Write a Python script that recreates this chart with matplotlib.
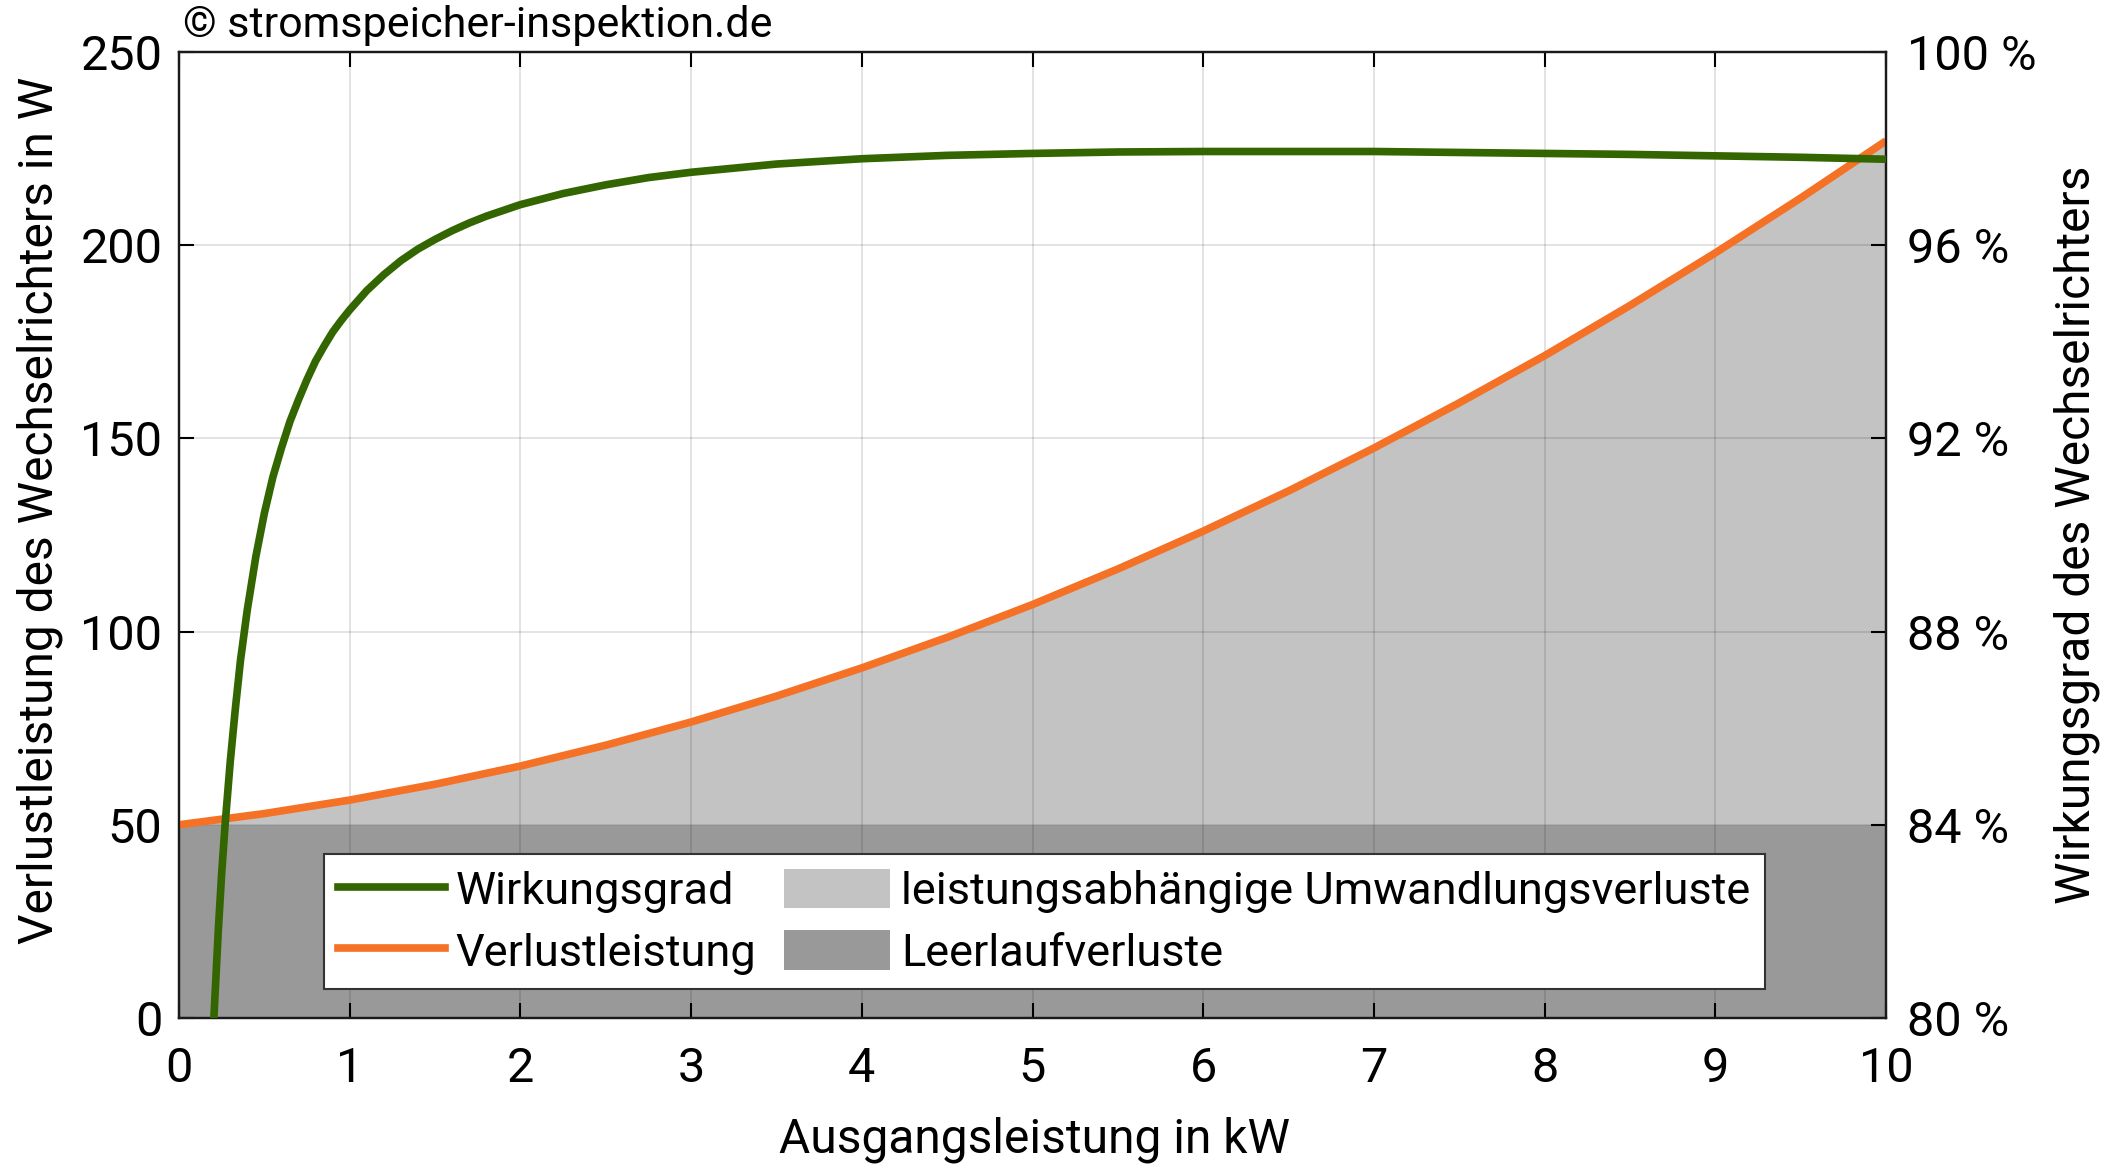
import numpy as np
import matplotlib.pyplot as plt
from matplotlib.patches import Patch
from matplotlib.lines import Line2D

plt.rcParams['font.family'] = ['Roboto', 'DejaVu Sans']

# DATA
# loss power of the inverter in W over output power in kW
p_loss_kw = [0, 0.5, 1, 1.5, 2, 2.5, 3, 3.5, 4, 4.5, 5, 5.5, 6, 6.5, 7, 7.5, 8, 8.5, 9, 9.5, 10]
loss_w = [50, 52.9, 56.4, 60.5, 65.2, 70.6, 76.6, 83.3, 90.6, 98.5, 107, 116.2, 126,
          136.4, 147.5, 159.2, 171.4, 184.4, 198.0, 212.2, 227]
idle_loss_w = 50

# efficiency in % over output power in kW
p_eff_kw = [0.2, 0.21, 0.22, 0.23, 0.25, 0.27, 0.3, 0.33, 0.36, 0.4, 0.45, 0.5, 0.55, 0.6,
            0.65, 0.7, 0.75, 0.8, 0.85, 0.9, 0.95, 1.0, 1.1, 1.2, 1.3, 1.4, 1.5, 1.6, 1.7,
            1.8, 2.0, 2.25, 2.5, 2.75, 3, 3.5, 4, 4.5, 5, 5.5, 6, 6.5, 7, 7.5, 8, 8.5, 9,
            9.5, 10]
eff_pct = [79.7, 80.4, 81.1, 81.8, 83.0, 84.0, 85.3, 86.4, 87.4, 88.45, 89.55, 90.45, 91.2,
           91.8, 92.35, 92.8, 93.22, 93.6, 93.91, 94.2, 94.44, 94.66, 95.06, 95.39, 95.68,
           95.92, 96.12, 96.3, 96.46, 96.6, 96.84, 97.07, 97.25, 97.4, 97.51, 97.68, 97.79,
           97.86, 97.9, 97.93, 97.94, 97.94, 97.94, 97.92, 97.9, 97.88, 97.85, 97.82, 97.78]

x_ticks = list(range(0, 11))
y_ticks = [0, 50, 100, 150, 200, 250]
eff_ticks = [80, 84, 88, 92, 96, 100]

GREEN = '#336600'
ORANGE = '#f47125'
LIGHT = '#c3c3c3'
DARK = '#999999'

fig = plt.figure(figsize=(21.15, 11.68), dpi=100)
ax = fig.add_axes([179/2115, 1 - 1018/1168, (1886-179)/2115, (1018-52)/1168])
ax2 = ax.twinx()

# fills
ax.fill_between([p_loss_kw[0], p_loss_kw[-1]], 0, idle_loss_w, color=DARK, lw=0, zorder=1)
ax.fill_between(p_loss_kw, idle_loss_w, loss_w, color=LIGHT, lw=0, zorder=1)
ax.plot(p_loss_kw, loss_w, color=ORANGE, lw=5.5, zorder=3, solid_capstyle='butt')
ax2.plot(p_eff_kw, eff_pct, color=GREEN, lw=5.5, zorder=3, solid_capstyle='butt',
         solid_joinstyle='round')

ax.set_xlim(0, 10)
ax.set_ylim(0, 250)
ax2.set_ylim(80, 100)
ax.set_xticks(x_ticks)
ax.set_yticks(y_ticks)
ax2.set_yticks(eff_ticks)
ax2.set_yticklabels([f'{v} %' for v in eff_ticks])

ax.grid(True, color='black', alpha=0.13, lw=1.2)
for a in (ax, ax2):
    for s in a.spines.values():
        s.set_linewidth(1.6)
        s.set_color('#1a1a1a')
ax.tick_params(axis='both', direction='in', length=11, width=1.5, labelsize=35,
               top=True, right=False)
ax.tick_params(axis='x', pad=20)
ax.tick_params(axis='y', pad=12)
ax2.tick_params(axis='y', direction='in', length=11, width=1.5, labelsize=35, pad=15)

ax.set_xlabel('Ausgangsleistung in kW', fontsize=34.5, va='center')
ax.xaxis.set_label_coords(0.501, -0.126)
ax.set_ylabel('Verlustleistung des Wechselrichters in W', fontsize=34.5, va='center')
ax.yaxis.set_label_coords(-0.0814, 0.525)
ax2.set_ylabel('Wirkungsgrad des Wechselrichters', fontsize=34.5, va='center')
ax2.yaxis.set_label_coords(1.112, 0.5)

handles = [Line2D([], [], color=GREEN, lw=5.5),
           Line2D([], [], color=ORANGE, lw=5.5),
           Patch(facecolor=LIGHT),
           Patch(facecolor=DARK)]
labels = ['Wirkungsgrad', 'Verlustleistung',
          'leistungsabhängige Umwandlungsverluste', 'Leerlaufverluste']
leg = ax2.legend(handles, labels, ncol=2, fontsize=32.5, loc='lower left',
                 bbox_to_anchor=(324/2115, 1 - 989/1168), bbox_transform=fig.transFigure,
                 fancybox=False, framealpha=1, edgecolor='#333333',
                 handlelength=2.36, handleheight=0.97, handletextpad=0.24,
                 columnspacing=0.6, labelspacing=0.38, borderpad=0.32, borderaxespad=0)
leg.get_frame().set_linewidth(1.5)

fig.text(183/2115, 1 - 37/1168, '© stromspeicher-inspektion.de', fontsize=31,
         va='baseline', ha='left')

fig.savefig('out.png', dpi=100)
